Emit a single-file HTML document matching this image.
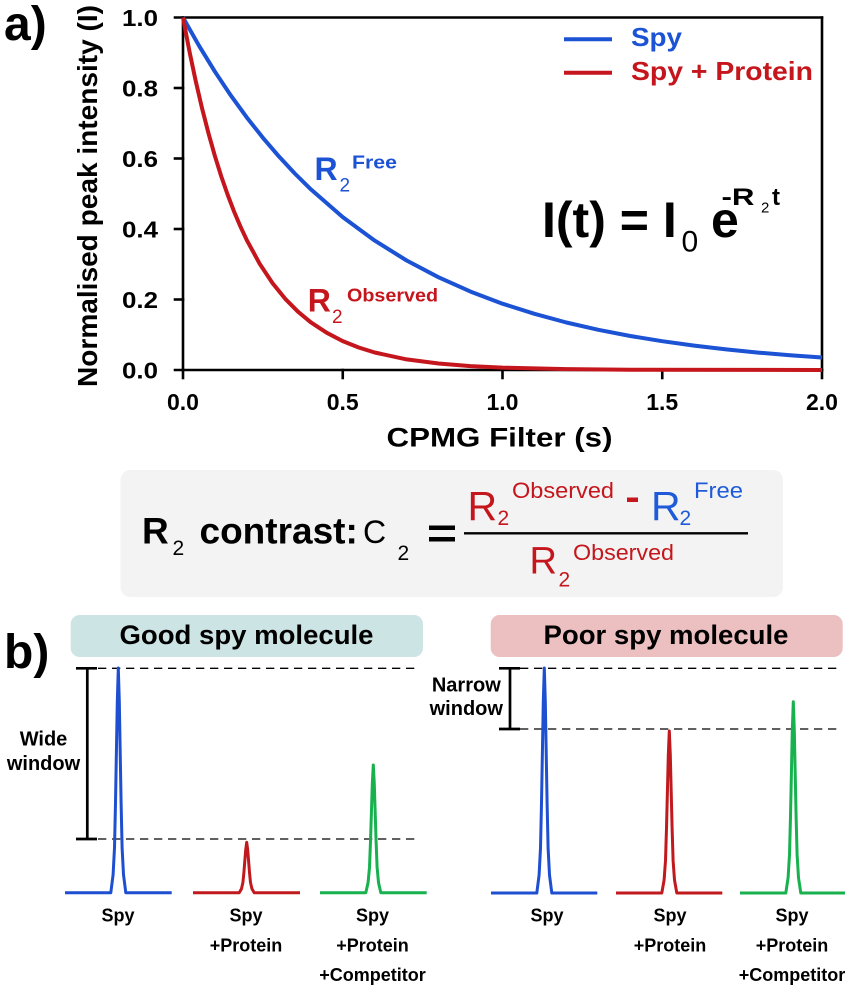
<!DOCTYPE html>
<html>
<head>
<meta charset="utf-8">
<style>
  html,body{margin:0;padding:0;background:#fff;}
  svg{display:block;}
  text{font-family:"Liberation Sans",Arial,sans-serif;}
</style>
</head>
<body>
<svg width="850" height="1000" viewBox="0 0 850 1000" xmlns="http://www.w3.org/2000/svg">
  <rect width="850" height="1000" fill="#fff"/>

  <!-- ===== Panel a ===== -->
  <text x="4" y="40" font-size="48" font-weight="bold" fill="#000">a)</text>

  <!-- y-axis label -->
  <text transform="translate(97,196) rotate(-90)" text-anchor="middle" font-size="28" font-weight="bold" textLength="382" lengthAdjust="spacingAndGlyphs" fill="#000">Normalised peak intensity (I)</text>

  <!-- frame / axes -->
  <g stroke="#000" stroke-width="2.6" fill="none" stroke-linecap="square">
    <line x1="183" y1="17.5" x2="183" y2="370"/>
    <line x1="175" y1="370" x2="822" y2="370"/>
    <line x1="175" y1="17.5" x2="822" y2="17.5"/>
    <line x1="822" y1="17.5" x2="822" y2="370"/>
    <line x1="175" y1="88" x2="183" y2="88"/>
    <line x1="175" y1="158.5" x2="183" y2="158.5"/>
    <line x1="175" y1="229" x2="183" y2="229"/>
    <line x1="175" y1="299.5" x2="183" y2="299.5"/>
    <line x1="183" y1="370" x2="183" y2="378"/>
    <line x1="342.75" y1="370" x2="342.75" y2="378"/>
    <line x1="502.5" y1="370" x2="502.5" y2="378"/>
    <line x1="662.25" y1="370" x2="662.25" y2="378"/>
    <line x1="822" y1="370" x2="822" y2="378"/>
  </g>

  <!-- y tick labels -->
  <g font-size="23" font-weight="bold" fill="#000">
    <text x="122" y="26" textLength="36" lengthAdjust="spacingAndGlyphs">1.0</text>
    <text x="122" y="96.5" textLength="36" lengthAdjust="spacingAndGlyphs">0.8</text>
    <text x="122" y="167" textLength="36" lengthAdjust="spacingAndGlyphs">0.6</text>
    <text x="122" y="237.5" textLength="36" lengthAdjust="spacingAndGlyphs">0.4</text>
    <text x="122" y="308" textLength="36" lengthAdjust="spacingAndGlyphs">0.2</text>
    <text x="122" y="378.5" textLength="36" lengthAdjust="spacingAndGlyphs">0.0</text>
  </g>
  <!-- x tick labels -->
  <g font-size="23" font-weight="bold" fill="#000" text-anchor="middle">
    <text x="183" y="410">0.0</text>
    <text x="342.75" y="410">0.5</text>
    <text x="502.5" y="410">1.0</text>
    <text x="662.25" y="410">1.5</text>
    <text x="822" y="410">2.0</text>
  </g>
  <text x="499.5" y="446.5" text-anchor="middle" font-size="27" font-weight="bold" textLength="226" lengthAdjust="spacingAndGlyphs" fill="#000">CPMG Filter (s)</text>

  <!-- curves -->
  <polyline fill="none" stroke="#1c52d4" stroke-width="4" stroke-linejoin="round"
    points="183,17.5 199,45.7 214.95,71.7 230.9,95.6 246.9,117.6 262.9,137.8 278.9,156.4 294.8,173.5 310.8,189.3 342.75,217.1 374.7,240.6 406.65,260.5 438.6,277.3 470.55,291.6 502.5,303.7 534.45,313.8 566.4,322.5 598.35,329.8 630.3,336 662.25,341.2 694.2,345.6 726.15,349.4 758.1,352.6 790.05,355.2 822,357.5"/>
  <polyline fill="none" stroke="#c4161c" stroke-width="4" stroke-linejoin="round"
    points="183,17.5 189.4,51.1 195.8,81.4 202.2,108.9 208.6,133.7 214.95,156.2 221.3,176.5 227.7,194.9 234.1,211.6 240.5,226.7 246.9,240.3 259.7,263.8 272.5,283.1 285.2,298.8 298,311.7 310.8,322.3 326.8,332.8 342.75,341.1 358.7,347.5 374.7,352.5 406.65,359.4 438.6,363.5 470.55,366.1 502.5,367.6 566.4,369.1 630.3,369.7 822,370"/>

  <!-- legend -->
  <line x1="564" y1="39.3" x2="612" y2="39.3" stroke="#1c52d4" stroke-width="4"/>
  <text x="631" y="46" font-size="26" font-weight="bold" fill="#1c52d4" textLength="51" lengthAdjust="spacingAndGlyphs">Spy</text>
  <line x1="564" y1="72.7" x2="612" y2="72.7" stroke="#c4161c" stroke-width="4"/>
  <text x="631" y="80" font-size="26" font-weight="bold" fill="#c4161c" textLength="182" lengthAdjust="spacingAndGlyphs">Spy + Protein</text>

  <!-- curve labels -->
  <text x="314.5" y="180" font-size="32" font-weight="bold" fill="#1c52d4">R</text>
  <text x="339.5" y="191.7" font-size="19" fill="#1c52d4">2</text>
  <text x="352" y="168.3" font-size="18" font-weight="bold" fill="#1c52d4" textLength="45" lengthAdjust="spacingAndGlyphs">Free</text>

  <text x="307.7" y="311.7" font-size="32" font-weight="bold" fill="#c4161c">R</text>
  <text x="332" y="323" font-size="19" fill="#c4161c">2</text>
  <text x="347" y="301.7" font-size="18" font-weight="bold" fill="#c4161c" textLength="91" lengthAdjust="spacingAndGlyphs">Observed</text>

  <!-- equation -->
  <text x="542" y="237" font-size="50" font-weight="bold" fill="#000">I(t) = I</text>
  <text x="681.5" y="251.7" font-size="30" fill="#000">0</text>
  <text x="711" y="237" font-size="50" font-weight="bold" fill="#000">e</text>
  <text x="721.5" y="205" font-size="24" font-weight="bold" fill="#000" textLength="33" lengthAdjust="spacingAndGlyphs">-R</text>
  <text x="761" y="212.7" font-size="15" fill="#000">2</text>
  <text x="772" y="205" font-size="24" font-weight="bold" fill="#000">t</text>

  <!-- ===== Contrast box ===== -->
  <rect x="120.5" y="470" width="662.5" height="127" rx="10" ry="10" fill="#f3f3f3"/>
  <text x="142" y="543.3" font-size="37" font-weight="bold" fill="#000">R</text>
  <text x="172.5" y="555" font-size="21" fill="#000">2</text>
  <text x="199.5" y="543.3" font-size="37" font-weight="bold" fill="#000">contrast:</text>
  <text x="363" y="543" font-size="32" fill="#000">C</text>
  <text x="397.5" y="560" font-size="21" fill="#000">2</text>
  <rect x="429" y="525.5" width="26" height="4.5" fill="#000"/>
  <rect x="429" y="537" width="26" height="4.5" fill="#000"/>
  <line x1="464" y1="533.3" x2="748" y2="533.3" stroke="#000" stroke-width="2.4"/>

  <text x="467.5" y="520" font-size="41" fill="#c4161c">R</text>
  <text x="497.5" y="525" font-size="21" fill="#c4161c">2</text>
  <text x="512" y="498" font-size="22" fill="#c4161c" textLength="102" lengthAdjust="spacingAndGlyphs">Observed</text>
  <rect x="627" y="497.5" width="11" height="4.5" fill="#c4161c"/>
  <text x="651" y="520" font-size="41" fill="#1f5bd9">R</text>
  <text x="679.5" y="525" font-size="21" fill="#1f5bd9">2</text>
  <text x="694" y="498" font-size="22" fill="#1f5bd9" textLength="49" lengthAdjust="spacingAndGlyphs">Free</text>

  <text x="529.5" y="573.3" font-size="38" fill="#c4161c">R</text>
  <text x="558.5" y="586.7" font-size="21" fill="#c4161c">2</text>
  <text x="573" y="560" font-size="22" fill="#c4161c" textLength="101" lengthAdjust="spacingAndGlyphs">Observed</text>

  <!-- ===== Panel b ===== -->
  <text x="4" y="668" font-size="48" font-weight="bold" fill="#000">b)</text>

  <rect x="70.7" y="615" width="352.3" height="42" rx="9" ry="9" fill="#cde4e5"/>
  <text x="246.5" y="644" text-anchor="middle" font-size="27" font-weight="bold" fill="#000" textLength="254" lengthAdjust="spacingAndGlyphs">Good spy molecule</text>
  <rect x="490.7" y="615" width="352" height="42" rx="9" ry="9" fill="#ecbfc0"/>
  <text x="666" y="644" text-anchor="middle" font-size="27" font-weight="bold" fill="#000" textLength="245" lengthAdjust="spacingAndGlyphs">Poor spy molecule</text>

  <!-- dashed reference lines -->
  <g stroke="#000" stroke-width="1.3" stroke-dasharray="8.3 5.7" fill="none">
    <line x1="98" y1="668.3" x2="417" y2="668.3"/>
    <line x1="98" y1="839" x2="417" y2="839"/>
    <line x1="520" y1="668.3" x2="842" y2="668.3"/>
    <line x1="520" y1="729" x2="842" y2="729"/>
  </g>

  <!-- error bars -->
  <g stroke="#000" stroke-width="2.7" fill="none">
    <line x1="87.3" y1="668.3" x2="87.3" y2="839"/>
    <line x1="76" y1="668.3" x2="97" y2="668.3"/>
    <line x1="76" y1="839" x2="97" y2="839"/>
    <line x1="510" y1="668.3" x2="510" y2="729"/>
    <line x1="499" y1="668.3" x2="520" y2="668.3"/>
    <line x1="499" y1="729" x2="520" y2="729"/>
  </g>

  <g font-size="20" font-weight="bold" fill="#000" text-anchor="middle">
    <text x="43.5" y="745.7">Wide</text>
    <text x="43.5" y="770">window</text>
    <text x="466.3" y="691.7">Narrow</text>
    <text x="466.3" y="715">window</text>
  </g>

  <!-- peaks -->
  <g fill="none" stroke-width="3" stroke-linejoin="round">
    <polyline stroke="#1f4fd1" points="65,892.7 110.8,892.7 113.1,874.7 114.5,847.8 115.5,802.8 116.5,746.6 117.3,701.7 118.3,668 119.3,701.7 120.1,746.6 121.1,802.8 122.1,847.8 123.5,874.7 125.8,892.7 171.7,892.7"/>
    <polyline stroke="#c01a1f" points="193,892.7 239.2,892.7 241.5,888.7 242.9,882.6 243.9,872.5 244.9,859.9 245.7,849.9 246.7,842.3 247.7,849.9 248.5,859.9 249.5,872.5 250.5,882.6 251.9,888.7 254.2,892.7 300,892.7"/>
    <polyline stroke="#17b14e" points="320,892.7 365.8,892.7 368.1,882.5 369.5,867.2 370.5,841.6 371.5,809.7 372.3,784.2 373.3,765 374.3,784.2 375.1,809.7 376.1,841.6 377.1,867.2 378.5,882.5 380.8,892.7 426.7,892.7"/>
    <polyline stroke="#1f4fd1" points="491,893 536.8,893 539.1,875 540.5,848 541.5,803 542.5,746.7 543.3,701.7 544.3,668 545.3,701.7 546.1,746.7 547.1,803 548.1,848 549.5,875 551.8,893 597.3,893"/>
    <polyline stroke="#c01a1f" points="616,893 661.8,893 664.1,880 665.5,860.6 666.5,828.2 667.5,787.7 668.3,755.3 669.3,731 670.3,755.3 671.1,787.7 672.1,828.2 673.1,860.6 674.5,880 676.8,893 722.3,893"/>
    <polyline stroke="#17b14e" points="740,893 785.8,893 788.1,877.7 789.5,854.7 790.5,816.5 791.5,768.7 792.3,730.4 793.3,701.7 794.3,730.4 795.1,768.7 796.1,816.5 797.1,854.7 798.5,877.7 800.8,893 845,893"/>
  </g>

  <!-- peak labels -->
  <g font-size="18" font-weight="bold" fill="#000" text-anchor="middle">
    <text x="118" y="921.5">Spy</text>
    <text x="246" y="921.5">Spy</text>
    <text x="246" y="951.7">+Protein</text>
    <text x="372.5" y="921.5">Spy</text>
    <text x="372.5" y="951.7">+Protein</text>
    <text x="372.5" y="981">+Competitor</text>

    <text x="547" y="921.5">Spy</text>
    <text x="670" y="921.5">Spy</text>
    <text x="670" y="951.7">+Protein</text>
    <text x="792" y="921.5">Spy</text>
    <text x="792" y="951.7">+Protein</text>
    <text x="792" y="981">+Competitor</text>
  </g>
</svg>
</body>
</html>
